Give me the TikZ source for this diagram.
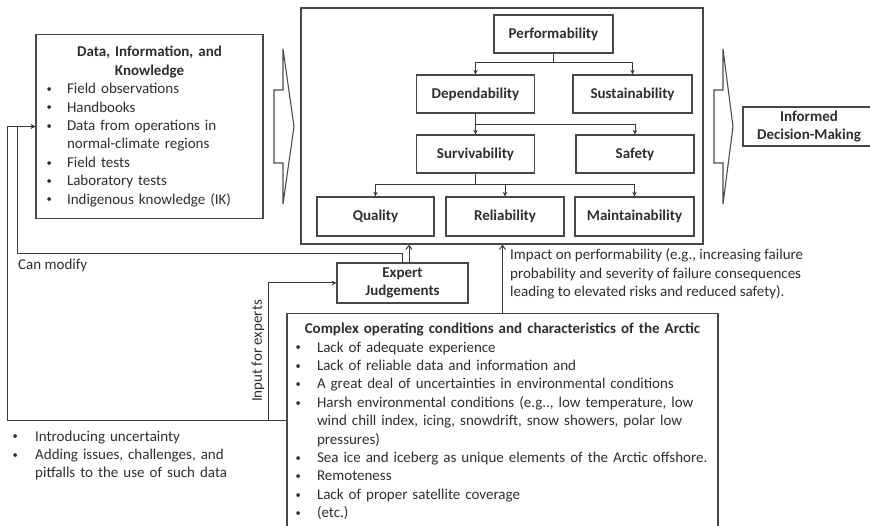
\documentclass[tikz,border=0pt]{standalone}
\usepackage{fontspec}
\usepackage{graphicx}
\setmainfont{Carlito}
\usetikzlibrary{arrows.meta,calc}

% small bullet mark and item with hanging indent
\newcommand{\smallbul}{\raisebox{1.2pt}{\scalebox{0.7}{\textbullet}}}
\newcommand{\bitem}[2][22.5]{\par\noindent\hangindent=#1pt\hangafter=1\makebox[#1pt][l]{\hspace{1pt}\smallbul}#2\par}

\tikzset{
  boxline/.style={draw=black!72, line width=1.3pt},
  txt/.style={text=black!82},
  leaf/.style={boxline, txt, font=\fontsize{15}{18.4}\selectfont\bfseries, inner sep=0pt, align=center},
  link/.style={draw=black!78, line width=1pt},
  tip/.style={link, -{Stealth[length=4.5pt,width=4.5pt]}},
  uptip/.style={link, -{Straight Barb[length=4pt,width=6pt]}},
  blockarrow/.style={draw=black!70, line width=1.1pt, line join=miter},
}

\begin{document}
\begin{tikzpicture}[x=1pt,y=-1pt,font=\fontsize{15}{18.4}\selectfont]
\useasboundingbox (0,0) rectangle (870,526);

% sources of knowledge
\node[boxline, txt, minimum width=227pt, minimum height=184pt, text width=208pt,
      inner xsep=9.5pt, inner ysep=0pt, align=left] (data) at (149.5,126.5) {%
  {\centering\bfseries Data, Information, and\par Knowledge\par}
  \bitem[21.5]{Field observations}
  \bitem[21.5]{Handbooks}
  \bitem[21.5]{Data from operations in\newline normal-climate regions}
  \bitem[21.5]{Field tests}
  \bitem[21.5]{Laboratory tests}
  \bitem[21.5]{Indigenous knowledge (IK)}};

% performability hierarchy
\node[boxline, minimum width=402pt, minimum height=236pt, inner sep=0pt] (frame) at (502,126) {};
\node[leaf, minimum width=119pt, minimum height=38pt] (perf)  at (553.5,34)  {Performability};
\node[leaf, minimum width=118pt, minimum height=38pt] (dep)   at (475.5,94)  {Dependability};
\node[leaf, minimum width=119pt, minimum height=38pt] (sust)  at (632.5,94)  {Sustainability};
\node[leaf, minimum width=118pt, minimum height=38pt] (surv)  at (475.5,154) {Survivability};
\node[leaf, minimum width=118pt, minimum height=38pt] (safe)  at (635,154)   {Safety};
\node[leaf, minimum width=117pt, minimum height=39pt] (qual)  at (375.5,216.5) {Quality};
\node[leaf, minimum width=118pt, minimum height=39pt] (rel)   at (505,216.5) {Reliability};
\node[leaf, minimum width=119pt, minimum height=39pt] (maint) at (634.5,216.5) {Maintainability};

\coordinate (j1) at ($(perf.south)+(0,9)$);
\draw[link] (perf.south) -- (j1);
\draw[tip] (j1) -| (dep.north);
\draw[tip] (j1) -| (sust.north);

\coordinate (j2) at ($(dep.south)+(0,11)$);
\draw[tip] (dep.south) -- (surv.north);
\draw[tip] (j2) -| (safe.north);

\coordinate (j3) at ($(surv.south)+(0,11)$);
\draw[link] (surv.south) -- (j3);
\draw[tip] (j3) -| (qual.north);
\draw[tip] (j3) -| (rel.north);
\draw[tip] (j3) -| (maint.north);

% block arrows
\draw[blockarrow] (274,90) -- (283,90) -- (283,49) -- (294,126.5) -- (283,204) -- (283,163) -- (274,163) -- cycle;
\draw[blockarrow] (714,90) -- (723,90) -- (723,49) -- (733,126.5) -- (723,204) -- (723,163) -- (714,163) -- cycle;

\node[leaf, minimum width=132pt, minimum height=39pt] (decide) at (809,126.5) {Informed\\Decision-Making};

% experts
\node[leaf, minimum width=131pt, minimum height=40pt] (expert) at (402.5,283) {Expert\\Judgements};

% Arctic conditions
\node[boxline, txt, minimum width=431pt, minimum height=216pt, text width=416pt,
      inner xsep=7.5pt, inner ysep=0pt, align=left] (complex) at (502.5,421.5) {%
  {\centering\bfseries Complex operating conditions and characteristics of the Arctic\par}
  \bitem{Lack of adequate experience}
  \bitem{Lack of reliable data and information and}
  \bitem{A great deal of uncertainties in environmental conditions}
  \bitem{Harsh environmental conditions (e.g.., low temperature, low\newline wind chill index, icing, snowdrift, snow showers, polar low\newline pressures)}
  \bitem{Sea ice and iceberg as unique elements of the Arctic offshore.}
  \bitem{Remoteness}
  \bitem{Lack of proper satellite coverage}
  \bitem{(etc.)}};

% feedback and influence connectors
\coordinate (e1) at ($(expert.north)+(6.5,0)$);
\draw[uptip] (e1) -- (e1 |- frame.south);

\coordinate (inner) at (17,254);
\draw[tip] (expert.north) |- (inner) |- (data.west);

\coordinate (outer) at (7,420);
\draw[tip] (complex.west |- outer) -- (outer) |- (data.west);

\coordinate (branch) at (268,420);
\draw[tip] (branch) |- (expert.west);

\draw[uptip] (complex.north) -- (complex.north |- frame.south);

% labels
\node[txt, anchor=west, inner sep=0pt] (canmod) at (18,266) {Can modify};
\node[txt, rotate=90, inner sep=0pt] (inexp) at (258,351) {Input for experts};
\node[txt, anchor=west, inner sep=0pt, align=left] (impact) at (510,274)
  {Impact on performability (e.g., increasing failure\\probability and severity of failure consequences\\leading to elevated risks and reduced safety).};
\node[txt, anchor=west, inner sep=0pt, text width=270pt, align=left] (notes) at (11.5,451.5) {%
  \bitem[23.5]{Introducing uncertainty}
  \bitem[23.5]{Adding issues, challenges, and\newline pitfalls to the use of such data}};

\end{tikzpicture}
\end{document}
